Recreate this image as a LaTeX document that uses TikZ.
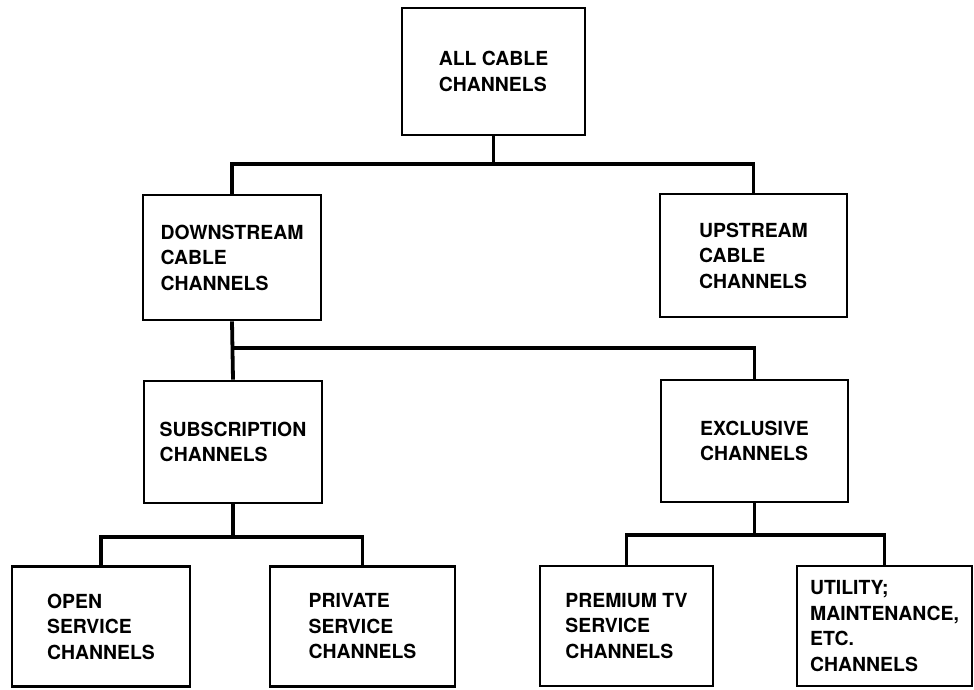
\documentclass[tikz,border=0pt]{standalone}
\usepackage{fontspec}
\setmainfont{TeX Gyre Heros}
\usepackage{tikz}
\usetikzlibrary{positioning,calc}

\begin{document}
\begin{tikzpicture}[x=1pt,y=-1pt,line join=miter,
    chan/.style={draw,rectangle,line width=2.8pt,align=left,inner sep=0pt,
      font=\fontsize{19.4}{25.5}\selectfont\bfseries},
    link/.style={line width=3.8pt}]

    \useasboundingbox (0,0) rectangle (974,689);

    % top level
    \node[chan,minimum width=183,minimum height=127] (all) at (493.5,71.5) {ALL CABLE\\CHANNELS};

    % second level
    \node[chan,minimum width=178,minimum height=125] (down) at (232,257.5) {DOWNSTREAM\\CABLE\\CHANNELS};
    \node[chan,minimum width=187,minimum height=123] (up) at (753.5,255.5) {UPSTREAM\\CABLE\\CHANNELS};

    % third level
    \node[chan,minimum width=178,minimum height=122] (sub) at (233,442) {SUBSCRIPTION\\CHANNELS};
    \node[chan,minimum width=187,minimum height=122] (excl) at (754.5,441) {EXCLUSIVE\\CHANNELS};

    % bottom row
    \node[chan,minimum width=178,minimum height=120] (open) at (101,626.5) {OPEN\\SERVICE\\CHANNELS};
    \node[chan,minimum width=185,minimum height=120] (priv) at (362.5,626.5) {PRIVATE\\SERVICE\\CHANNELS};
    \node[chan,minimum width=173,minimum height=120] (prem) at (626.5,626) {PREMIUM TV\\SERVICE\\CHANNELS};
    \node[chan,minimum width=175,minimum height=120] (util) at (884.5,626) {UTILITY;\\MAINTENANCE,\\ETC.\\CHANNELS};

    % junctions
    \coordinate (j1) at (all.south |- 0,164);
    \coordinate (j2) at (down.south |- 0,348);
    \coordinate (j3) at (sub.south |- 0,537);
    \coordinate (j4) at (excl.south |- 0,535);

    \draw[link] (all.south) -- (j1);
    \draw[link] (down.north) |- (j1) -| (up.north);
    \draw[link] (down.south) -- (sub.north);
    \draw[link] (j2) -| (excl.north);
    \draw[link] (sub.south) -- (j3);
    \draw[link] (open.north) |- (j3) -| (priv.north);
    \draw[link] (excl.south) -- (j4);
    \draw[link] (prem.north) |- (j4) -| (util.north);
  \end{tikzpicture}
\end{document}
